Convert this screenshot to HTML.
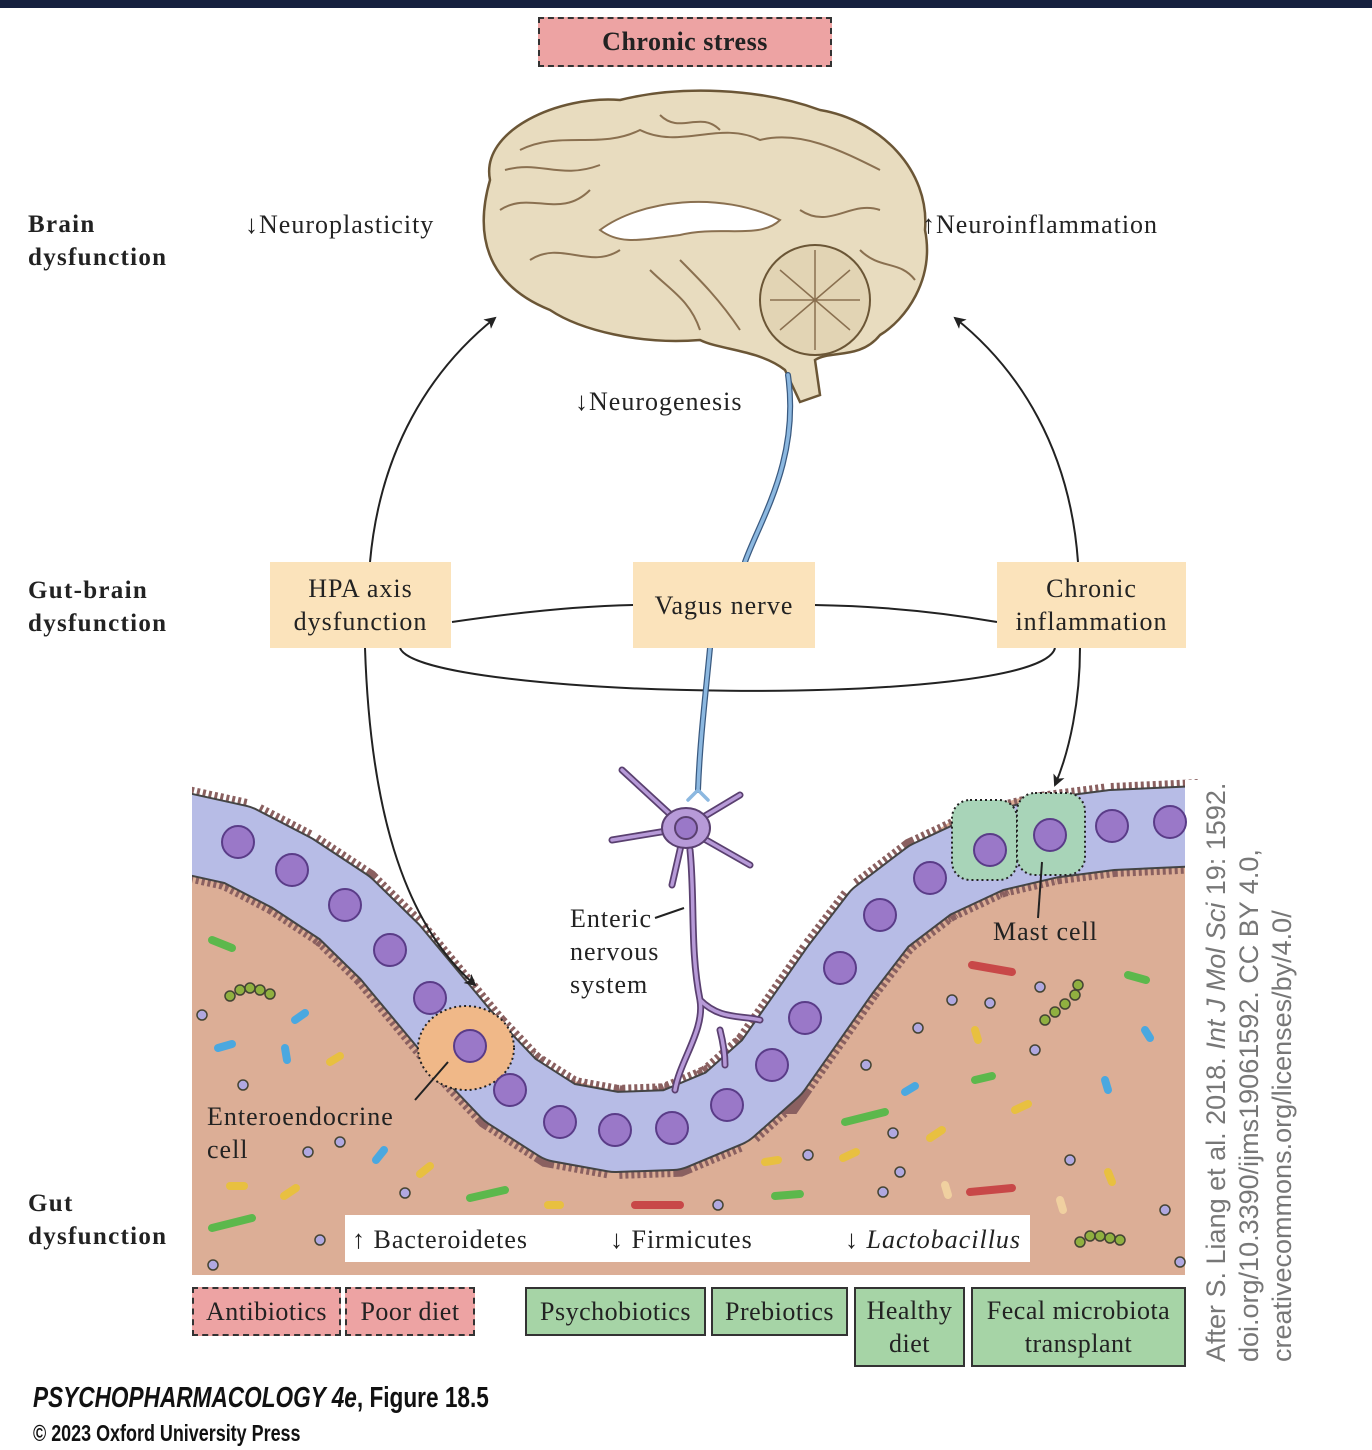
<!DOCTYPE html>
<html><head><meta charset="utf-8"><style>
body{margin:0;background:#fff;width:1372px;height:1450px;overflow:hidden;position:relative;font-family:"Liberation Serif",serif;}
.a{position:absolute;}
.lbl{font-weight:bold;font-size:25px;line-height:33px;color:#222;left:28px;letter-spacing:1.3px;}
.box{position:absolute;background:#fbe3bb;font-size:26px;letter-spacing:1px;text-align:center;color:#222;display:flex;align-items:center;justify-content:center;line-height:33px;}
.g{position:absolute;background:#a6d4a6;border:2px solid #333;box-sizing:border-box;font-size:26px;letter-spacing:0.5px;text-align:center;color:#222;line-height:33px;display:flex;align-items:center;justify-content:center;white-space:nowrap;}
.p{position:absolute;background:#eda3a3;border:2px dashed #333;box-sizing:border-box;font-size:26px;letter-spacing:0.5px;text-align:center;color:#222;display:flex;align-items:center;justify-content:center;white-space:nowrap;}
.t{position:absolute;font-size:26px;letter-spacing:1px;color:#222;white-space:nowrap;}
</style></head><body>
<svg class="a" style="left:0;top:0" width="1372" height="1450">
<defs><marker id="ar" markerWidth="12" markerHeight="12" refX="10" refY="6" orient="auto" markerUnits="userSpaceOnUse"><path d="M0,0 L12,6 L0,12 L3,6z" fill="#222"/></marker></defs>
<rect x="192" y="790" width="993" height="485" fill="#dcae96"/>
<polygon fill="#fff" points="192,8 192,800 250,808 300,835 350,870 400,915 440,960 480,1008 520,1048 570,1080 620,1092 680,1090 730,1068 760,1038 790,995 830,935 870,880 920,842 960,815 1020,798 1185,793 1185,8"/>
<path d="M170,830 L238,845 292,873 345,908 390,952 430,1000 470,1048 510,1090 560,1122 615,1132 672,1130 727,1107 772,1067 805,1020 840,970 880,918 930,880 990,852 1050,838 1112,830 1200,826" fill="none" stroke="#8a6060" stroke-width="94" stroke-dasharray="3 3"/>
<path d="M170,830 L238,845 292,873 345,908 390,952 430,1000 470,1048 510,1090 560,1122 615,1132 672,1130 727,1107 772,1067 805,1020 840,970 880,918 930,880 990,852 1050,838 1112,830 1200,826" fill="none" stroke="#444" stroke-width="82" stroke-linejoin="round"/>
<path d="M170,830 L238,845 292,873 345,908 390,952 430,1000 470,1048 510,1090 560,1122 615,1132 672,1130 727,1107 772,1067 805,1020 840,970 880,918 930,880 990,852 1050,838 1112,830 1200,826" fill="none" stroke="#b7bce6" stroke-width="78" stroke-linejoin="round"/>
<rect x="1185" y="780" width="187" height="500" fill="#fff"/>
<rect x="0" y="780" width="192" height="500" fill="#fff"/>
<ellipse cx="466" cy="1048" rx="48" ry="42" fill="#f0b888" stroke="#222" stroke-width="2" stroke-dasharray="2 3"/>
<rect x="952" y="800" width="65" height="80" rx="18" fill="#a8d4b8" stroke="#222" stroke-width="2" stroke-dasharray="2 3"/>
<rect x="1017" y="793" width="68" height="82" rx="18" fill="#a8d4b8" stroke="#222" stroke-width="2" stroke-dasharray="2 3"/>
<g fill="#9a78c8" stroke="#5a3c88" stroke-width="2">
<circle cx="238" cy="842" r="16"/><circle cx="292" cy="870" r="16"/><circle cx="345" cy="905" r="16"/><circle cx="390" cy="950" r="16"/><circle cx="430" cy="998" r="16"/><circle cx="470" cy="1046" r="16"/><circle cx="510" cy="1090" r="16"/><circle cx="560" cy="1122" r="16"/><circle cx="615" cy="1130" r="16"/><circle cx="672" cy="1128" r="16"/><circle cx="727" cy="1105" r="16"/><circle cx="772" cy="1065" r="16"/><circle cx="805" cy="1018" r="16"/><circle cx="840" cy="968" r="16"/><circle cx="880" cy="915" r="16"/><circle cx="930" cy="878" r="16"/><circle cx="990" cy="850" r="16"/><circle cx="1050" cy="835" r="16"/><circle cx="1112" cy="826" r="16"/><circle cx="1170" cy="822" r="16"/>
</g>
<g stroke-linecap="round" stroke-width="8">
<line x1="212" y1="940" x2="232" y2="948" stroke="#5cb84c"/><line x1="218" y1="1048" x2="232" y2="1044" stroke="#4aa8e0"/><line x1="295" y1="1020" x2="305" y2="1013" stroke="#4aa8e0"/><line x1="285" y1="1048" x2="287" y2="1060" stroke="#4aa8e0"/><line x1="330" y1="1062" x2="340" y2="1056" stroke="#e8c040"/><line x1="230" y1="1186" x2="244" y2="1186" stroke="#e8c040"/><line x1="284" y1="1196" x2="296" y2="1188" stroke="#e8c040"/><line x1="376" y1="1160" x2="384" y2="1150" stroke="#4aa8e0"/><line x1="420" y1="1174" x2="430" y2="1166" stroke="#e8c040"/><line x1="212" y1="1228" x2="252" y2="1218" stroke="#5cb84c"/><line x1="470" y1="1198" x2="505" y2="1190" stroke="#5cb84c"/><line x1="548" y1="1205" x2="560" y2="1205" stroke="#e8c040"/><line x1="635" y1="1205" x2="680" y2="1205" stroke="#c84848"/><line x1="775" y1="1196" x2="800" y2="1194" stroke="#5cb84c"/><line x1="765" y1="1162" x2="778" y2="1160" stroke="#e8c040"/><line x1="845" y1="1122" x2="885" y2="1112" stroke="#5cb84c"/><line x1="843" y1="1158" x2="856" y2="1152" stroke="#e8c040"/><line x1="905" y1="1092" x2="915" y2="1086" stroke="#4aa8e0"/><line x1="930" y1="1138" x2="942" y2="1130" stroke="#e8c040"/><line x1="972" y1="965" x2="1012" y2="972" stroke="#c84848"/><line x1="975" y1="1030" x2="978" y2="1040" stroke="#e8c040"/><line x1="1105" y1="1080" x2="1108" y2="1090" stroke="#4aa8e0"/><line x1="1145" y1="1030" x2="1150" y2="1038" stroke="#4aa8e0"/><line x1="1015" y1="1110" x2="1028" y2="1104" stroke="#e8c040"/><line x1="970" y1="1192" x2="1012" y2="1188" stroke="#c84848"/><line x1="975" y1="1080" x2="992" y2="1076" stroke="#5cb84c"/><line x1="1108" y1="1172" x2="1112" y2="1182" stroke="#e8c040"/><line x1="1128" y1="975" x2="1146" y2="980" stroke="#5cb84c"/><line x1="945" y1="1185" x2="948" y2="1195" stroke="#f0d0a0"/><line x1="1060" y1="1200" x2="1063" y2="1210" stroke="#f0d0a0"/>
</g>
<g fill="#b0a8e0" stroke="#443" stroke-width="1.5">
<circle cx="202" cy="1015" r="5"/><circle cx="243" cy="1085" r="5"/><circle cx="308" cy="1152" r="5"/><circle cx="340" cy="1142" r="5"/><circle cx="405" cy="1193" r="5"/><circle cx="320" cy="1240" r="5"/><circle cx="213" cy="1265" r="5"/><circle cx="718" cy="1205" r="5"/><circle cx="808" cy="1155" r="5"/><circle cx="893" cy="1133" r="5"/><circle cx="900" cy="1172" r="5"/><circle cx="883" cy="1192" r="5"/><circle cx="952" cy="1000" r="5"/><circle cx="990" cy="1003" r="5"/><circle cx="918" cy="1028" r="5"/><circle cx="1040" cy="987" r="5"/><circle cx="1035" cy="1050" r="5"/><circle cx="1070" cy="1160" r="5"/><circle cx="1165" cy="1210" r="5"/><circle cx="1180" cy="1262" r="5"/><circle cx="866" cy="1065" r="5"/>
</g>
<g fill="#90b040" stroke="#443" stroke-width="1.5">
<circle cx="230" cy="996" r="5"/><circle cx="240" cy="990" r="5"/><circle cx="250" cy="988" r="5"/><circle cx="260" cy="990" r="5"/><circle cx="270" cy="994" r="5"/>
<circle cx="1045" cy="1020" r="5"/><circle cx="1055" cy="1012" r="5"/><circle cx="1065" cy="1004" r="5"/><circle cx="1075" cy="995" r="5"/><circle cx="1078" cy="985" r="5"/>
<circle cx="1080" cy="1242" r="5"/><circle cx="1090" cy="1236" r="5"/><circle cx="1100" cy="1236" r="5"/><circle cx="1110" cy="1238" r="5"/><circle cx="1120" cy="1240" r="5"/>
</g>
<path d="M490,180 C480,130 560,95 620,100 C680,85 760,88 820,110 C880,120 930,170 925,230 C935,280 905,320 880,335 C860,360 830,350 815,360 L820,395 L800,402 L785,370 C760,350 720,350 700,340 C640,345 580,330 550,310 C500,290 470,250 490,180Z" fill="#e8dcbf" stroke="#6b5636" stroke-width="2.5"/>
<g fill="none" stroke="#8a7050" stroke-width="2">
<path d="M520,150 C560,130 600,150 640,130 C680,150 720,120 760,140 C800,130 840,150 880,170"/>
<path d="M500,210 C530,190 560,220 590,190"/><path d="M880,210 C850,200 830,230 800,210"/>
<path d="M530,260 C560,240 590,270 620,250"/><path d="M660,115 C680,135 700,110 720,130"/>
<path d="M505,170 C540,160 560,180 600,165"/><path d="M860,250 C880,270 900,260 915,280"/>
<path d="M600,230 C640,200 720,190 780,220 C760,240 720,225 680,235 C640,240 620,245 600,230Z" fill="#fff"/>
<path d="M680,260 C700,280 720,300 740,330" /><path d="M650,270 C670,290 690,300 700,330"/>
</g>
<circle cx="815" cy="300" r="55" fill="#e2d4b4" stroke="#6b5636" stroke-width="2"/>
<path d="M770,300 L860,300 M815,250 L815,350 M780,270 L850,330 M850,270 L780,330" stroke="#8a7050" stroke-width="1.5"/>
<g fill="none" stroke="#222" stroke-width="2">
<path d="M370,562 C380,450 430,370 495,318" marker-end="url(#ar)"/>
<path d="M1078,562 C1070,450 1020,370 955,318" marker-end="url(#ar)"/>
<path d="M365,648 C370,800 400,920 475,985" marker-end="url(#ar)"/>
<path d="M1080,648 C1080,700 1070,750 1055,785" marker-end="url(#ar)"/>
<path d="M452,622 C520,612 580,606 633,605"/>
<path d="M814,605 C880,606 940,612 997,622"/>
<path d="M400,648 C420,700 1040,710 1055,648"/>
<path d="M684,908 L655,918"/>
<path d="M415,1100 L448,1062"/>
<path d="M1042,862 L1038,918"/>
</g>
<g fill="none" stroke="#3a5a80" stroke-width="6" stroke-linecap="round"><path d="M788,375 C800,460 760,520 745,562"/><path d="M710,648 C705,700 700,740 698,790"/></g>
<g fill="none" stroke="#8cb8e0" stroke-width="3.5" stroke-linecap="round"><path d="M788,375 C800,460 760,520 745,562"/><path d="M710,648 C705,700 700,740 698,790"/><path d="M688,800 L698,790 L708,800"/></g>
<g stroke="#5a4070" fill="none" stroke-linecap="round">
<path d="M685,828 L740,795 M685,828 L622,770 M685,828 L750,865 M685,828 L612,840 M685,828 L672,885 M690,850 C695,900 690,950 700,1000 C705,1030 680,1060 675,1090 M700,1000 C720,1020 740,1015 760,1020 M720,1030 C725,1050 725,1060 725,1065" stroke-width="7"/>
<path d="M685,828 L740,795 M685,828 L622,770 M685,828 L750,865 M685,828 L612,840 M685,828 L672,885 M690,850 C695,900 690,950 700,1000 C705,1030 680,1060 675,1090 M700,1000 C720,1020 740,1015 760,1020 M720,1030 C725,1050 725,1060 725,1065" stroke="#b79ad8" stroke-width="3.5"/>
</g>
<g stroke="#5a4070" stroke-width="2" fill="#b79ad8">
<ellipse cx="686" cy="828" rx="24" ry="20"/>
<circle cx="686" cy="828" r="11" fill="#9a78c8"/>
</g>
</svg>
<div class="a" style="left:0;top:0;width:1372px;height:8px;background:#16213f"></div>
<div class="p" style="left:538px;top:17px;width:294px;height:50px;font-weight:bold;">Chronic stress</div>
<div class="a lbl" style="top:208px">Brain<br>dysfunction</div>
<div class="a lbl" style="top:574px">Gut-brain<br>dysfunction</div>
<div class="a lbl" style="top:1187px">Gut<br>dysfunction</div>
<div class="t" style="left:245px;top:210px">↓Neuroplasticity</div>
<div class="t" style="left:922px;top:210px">↑Neuroinflammation</div>
<div class="t" style="left:575px;top:387px">↓Neurogenesis</div>
<div class="box" style="left:270px;top:562px;width:181px;height:86px">HPA axis<br>dysfunction</div>
<div class="box" style="left:633px;top:562px;width:182px;height:86px">Vagus nerve</div>
<div class="box" style="left:997px;top:562px;width:189px;height:86px">Chronic<br>inflammation</div>
<div class="t" style="left:570px;top:902px;line-height:33px">Enteric<br>nervous<br>system</div>
<div class="t" style="left:993px;top:917px">Mast cell</div>
<div class="t" style="left:207px;top:1100px;line-height:33px">Enteroendocrine<br>cell</div>
<div class="a" style="left:345px;top:1215px;width:685px;height:47px;background:#fff"></div>
<div class="t" style="left:352px;top:1225px">↑ Bacteroidetes</div>
<div class="t" style="left:610px;top:1225px">↓ Firmicutes</div>
<div class="t" style="left:845px;top:1225px">↓ <i>Lactobacillus</i></div>
<div class="p" style="left:192px;top:1287px;width:149px;height:49px">Antibiotics</div>
<div class="p" style="left:345px;top:1287px;width:130px;height:49px">Poor diet</div>
<div class="g" style="left:525px;top:1287px;width:181px;height:49px">Psychobiotics</div>
<div class="g" style="left:711px;top:1287px;width:137px;height:49px">Prebiotics</div>
<div class="g" style="left:854px;top:1287px;width:111px;height:80px">Healthy<br>diet</div>
<div class="g" style="left:971px;top:1287px;width:215px;height:80px">Fecal microbiota<br>transplant</div>
<div class="a" style="left:1200px;top:1362px;transform-origin:0 0;transform:rotate(-90deg);font-family:'Liberation Sans',sans-serif;font-size:27px;line-height:33px;color:#777;white-space:nowrap">After S. Liang et al. 2018. <i>Int J Mol Sci</i> 19: 1592.<br>doi.org/10.3390/ijms19061592. CC BY 4.0,<br>creativecommons.org/licenses/by/4.0/</div>
<div class="a" style="left:33px;top:1382px;font-family:'Liberation Sans',sans-serif;font-size:29px;font-weight:bold;color:#111;transform:scaleX(0.78);transform-origin:0 0;white-space:nowrap"><i>PSYCHOPHARMACOLOGY 4e</i>, Figure 18.5</div>
<div class="a" style="left:33px;top:1420px;font-family:'Liberation Sans',sans-serif;font-size:23px;font-weight:bold;color:#111;transform:scaleX(0.78);transform-origin:0 0;white-space:nowrap">© 2023 Oxford University Press</div>
</body></html>
